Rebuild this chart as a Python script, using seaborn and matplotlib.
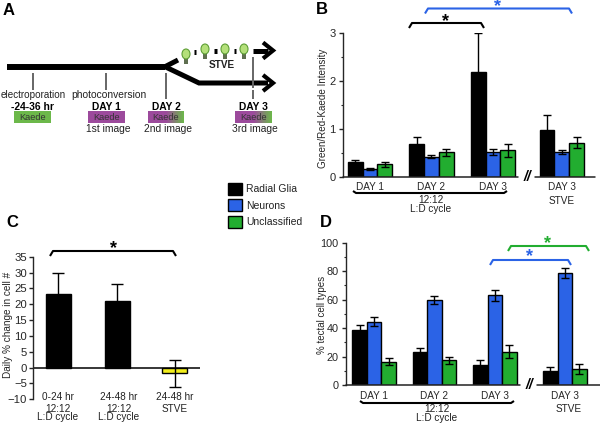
import numpy as np
import pandas as pd
import seaborn as sns
import matplotlib.pyplot as plt
from matplotlib.colors import LinearSegmentedColormap
from matplotlib.patches import Ellipse, Rectangle

# data
cell_types = ['Radial Glia', 'Neurons', 'Unclassified']
group_pos_b = [0, 1, 2, 3.12]
group_pos_d = [0, 1, 2, 3.16]
day_labels = ['DAY 1', 'DAY 2', 'DAY 3', 'DAY 3']

b_glia = [0.30, 0.68, 2.18, 0.98]
b_neurons = [0.16, 0.42, 0.52, 0.52]
b_unclass = [0.26, 0.51, 0.55, 0.71]
b_glia_err = [0.04, 0.15, 0.81, 0.30]
b_neurons_err = [0.03, 0.03, 0.06, 0.04]
b_unclass_err = [0.05, 0.07, 0.14, 0.11]

d_glia = [39, 23, 14, 10]
d_neurons = [44.5, 59.5, 63, 78.5]
d_unclass = [16.5, 17.5, 23.5, 11]
d_glia_err = [3, 2.7, 3.5, 3]
d_neurons_err = [3.3, 2.7, 3.7, 3.5]
d_unclass_err = [2.5, 2.5, 4.3, 3.5]

c_pos = [0, 1, 1.97]
c_vals = [23.3, 21, -1.8]
c_err = [6.6, 5.3, 4.2]
c_colors = ['black', 'black', '#f2ee1c']

sns.set_theme(style='ticks')
plt.rcParams['font.family'] = ['Liberation Sans', 'DejaVu Sans']
plt.rcParams['text.color'] = '#222222'

W, H = 600, 425
BLUE = '#2b63e6'
GREEN = '#22ad30'
palette = ['black', BLUE, GREEN]
fig = plt.figure(figsize=(W / 100, H / 100), dpi=100)


def px_axes(left, top, right, bottom):
    return fig.add_axes([left / W, 1 - bottom / H, (right - left) / W, (bottom - top) / H])


def grouped(ax, pos, series, errs):
    df = pd.DataFrame({
        'pos': pos * 3,
        'type': [t for t in cell_types for _ in pos],
        'val': [v for s in series for v in s],
    })
    sns.barplot(df, x='pos', y='val', hue='type', hue_order=cell_types, palette=palette,
                native_scale=True, width=0.72, gap=0, errorbar=None, legend=False, saturation=1,
                edgecolor='black', linewidth=1, ax=ax)
    for cont, err in zip(ax.containers, errs):
        xs = [p.get_x() + p.get_width() / 2 for p in cont]
        ys = [p.get_height() for p in cont]
        ax.errorbar(xs, ys, yerr=err, fmt='none', ecolor='black', elinewidth=1, capsize=3, capthick=1)
    ax.set_xlabel('')
    ax.set_xticks(pos)
    ax.set_xticklabels(day_labels)
    ax.tick_params(axis='x', length=0, labelsize=7.2, pad=4)
    ax.tick_params(axis='y', labelsize=8, length=3, width=1, pad=2)
    ax.tick_params(axis='y', which='minor', length=1.5, width=0.8)
    sns.despine(ax=ax)
    ax.spines['bottom'].set_visible(False)
    ax.spines['left'].set_linewidth(1)
    ax.patch.set_alpha(0)


# panel B
ax_b = px_axes(342.7, 32.7, 595, 176.7)
grouped(ax_b, group_pos_b, [b_glia, b_neurons, b_unclass], [b_glia_err, b_neurons_err, b_unclass_err])
ax_b.set_xlim(-0.444, 3.66)
ax_b.set_ylim(0, 3)
ax_b.set_yticks([0, 1, 2, 3])
ax_b.set_yticks([0.5, 1.5, 2.5], minor=True)
ax_b.set_ylabel('Green/Red-Kaede Intensity', fontsize=7.1)
ax_b.yaxis.set_label_coords(-15 / 252.3, 0.477)

# panel D
ax_d = px_axes(345.7, 242.7, 600, 385)
grouped(ax_d, group_pos_d, [d_glia, d_neurons, d_unclass], [d_glia_err, d_neurons_err, d_unclass_err])
ax_d.set_xlim(-0.47, 3.74)
ax_d.set_ylim(0, 100)
ax_d.set_yticks(range(0, 101, 20))
ax_d.set_yticks(range(10, 100, 20), minor=True)
ax_d.tick_params(axis='y', labelsize=7.8)
ax_d.set_ylabel('% tectal cell types', fontsize=7)
ax_d.yaxis.set_label_coords(-19 / 254.3, 0.49)

# panel C
ax_c = px_axes(32.7, 256.7, 200, 399.3)
sns.barplot(x=c_pos, y=c_vals, native_scale=True, hue=c_pos, palette=c_colors, legend=False, saturation=1,
            width=0.44, errorbar=None, edgecolor='black', linewidth=1, ax=ax_c)
ax_c.errorbar(c_pos, c_vals, yerr=c_err, fmt='none', ecolor='black', elinewidth=1, capsize=4, capthick=1)
ax_c.set_xlim(-0.43, 2.4)
ax_c.set_ylim(-10, 35)
ax_c.set_yticks(range(-10, 36, 5))
ax_c.set_xticks([])
ax_c.set_xlabel('')
ax_c.tick_params(axis='y', labelsize=8.2, length=3, width=1, pad=1)
ax_c.set_ylabel('Daily % change in cell #', fontsize=7.2)
ax_c.yaxis.set_label_coords(-20 / 167.3, 0.52)
ax_c.axhline(0, color='black', lw=1.1)
sns.despine(ax=ax_c, bottom=True)
ax_c.spines['left'].set_linewidth(1)
ax_c.patch.set_alpha(0)

# legend
handles = [Rectangle((0, 0), 1, 1, fc=c, ec='black', lw=1) for c in palette]
fig.legend(handles, cell_types, loc='upper left', bbox_to_anchor=(226 / W, 1 - 181 / H), frameon=False,
           fontsize=7.5, handlelength=1.35, handleheight=1.35, labelspacing=0.45, handletextpad=0.4,
           borderpad=0.2, borderaxespad=0)

# everything else is placed in pixel coordinates on a full-figure overlay
ov = fig.add_axes([0, 0, 1, 1], zorder=10)
ov.set_xlim(0, W)
ov.set_ylim(H, 0)
ov.axis('off')


def txt(x, y, s, size=7.2, **kw):
    kw.setdefault('ha', 'center')
    ov.text(x, y, s, fontsize=size, va='center', **kw)


def bracket(x0, x1, y, color='black', drop=5):
    ov.plot([x0, x0 + 3, x1 - 3, x1], [y + drop, y, y, y + drop], color=color, lw=1.5,
            solid_capstyle='butt', solid_joinstyle='round')


def star(x, y, color='black'):
    txt(x, y + 3, '*', size=13, color=color, fontweight='bold')


for letter, x, y in [('A', 9, 10), ('B', 322, 9), ('C', 12, 222), ('D', 326, 222)]:
    txt(x, y, letter, size=12, fontweight='bold', color='black')

# brackets and notes on B
bracket(409, 484, 23)
star(446, 19)
bracket(425, 572, 8.5, color=BLUE)
star(498, 4, color=BLUE)
bracket(353, 507, 193, drop=-2)
txt(431, 200, '12:12')
txt(431, 209, 'L:D cycle')
txt(562, 201, 'STVE')
ov.plot([342.7, 518], [176.7, 176.7], color='#222222', lw=1.1)
ov.plot([535, 595], [176.7, 176.7], color='#222222', lw=1.1)
txt(527, 177, '//', size=10, fontstyle='italic', fontweight='bold', color='black')

# brackets and notes on D
bracket(508, 589, 246, color=GREEN)
star(548, 241, color=GREEN)
bracket(490, 571, 260, color=BLUE)
star(530, 254, color=BLUE)
bracket(360, 514, 403, drop=-2)
txt(437, 409, '12:12')
txt(437, 418, 'L:D cycle')
txt(569, 409, 'STVE')
ov.plot([345.7, 520], [385, 385], color='#222222', lw=1.1)
ov.plot([537, 600], [385, 385], color='#222222', lw=1.1)
txt(529, 385, '//', size=10, fontstyle='italic', fontweight='bold', color='black')

# notes on C
bracket(50, 176, 251)
star(113, 246)
for x, lines in [(58, ['0-24 hr', '12:12', 'L:D cycle']), (119, ['24-48 hr', '12:12', 'L:D cycle']),
                 (175, ['24-48 hr', 'STVE'])]:
    for y, s in zip([397.5, 409, 417.5] if len(lines) == 3 else [397.5, 409], lines):
        txt(x, y, s)

# panel A, timeline
ov.plot([7, 165], [66.7, 66.7], color='black', lw=4.3, solid_capstyle='butt')
ov.plot([165, 199, 268], [66.7, 83, 83], color='black', lw=3.6, solid_capstyle='butt', solid_joinstyle='miter')
ov.plot([165, 178], [66.7, 60], color='black', lw=3.6, solid_capstyle='butt')
ov.plot([253, 268], [50.5, 50.5], color='black', lw=3.6, solid_capstyle='butt')
for x0, x1, y in [(194, 196, 52), (214, 216.5, 50.5), (233.5, 236, 50.5)]:
    ov.plot([x0, x1], [y, y], color='black', lw=3.6, solid_capstyle='butt')
for y in [50.5, 83]:
    ov.plot([263, 273, 263], [y - 8, y, y + 8], color='black', lw=3, solid_joinstyle='miter', solid_capstyle='butt')

for x, y0, y1 in [(32.5, 73, 90), (106, 73, 90), (165.5, 73, 99), (253, 57, 88), (253, 90, 99)]:
    ov.plot([x, x], [y0, y1], color='#666666', lw=1.4, solid_capstyle='butt')

for x, y in [(186, 54), (205, 49), (225, 49), (244, 49)]:
    ov.add_patch(Rectangle((x - 2, y + 3), 4, 7, fc='#5f6f50', ec='none'))
    ov.add_patch(Ellipse((x, y), 8, 10, fc='#b4e07a', ec='#5d9e35', lw=0.8))
txt(222, 65, 'STVE', size=7.2, fontweight='bold', color='#222222')

txt(33, 95, 'electroporation', size=7.1)
txt(108.5, 95, 'photoconversion', size=7.4)
for x, s in [(32.5, '-24-36 hr'), (106, 'DAY 1'), (166, 'DAY 2'), (253, 'DAY 3')]:
    txt(x, 106.5, s, fontweight='bold', color='black', size=7.4)
for x, s in [(108, '1st image'), (167.5, '2nd image'), (254.5, '3rd image')]:
    txt(x, 128.5, s, size=7.4)

KPURPLE, KGREEN = '#9c4a9c', '#6cb84a'
fade = LinearSegmentedColormap.from_list('kaede', [KPURPLE, KPURPLE, KGREEN])
boxes = [(14, 51, 'flat_green'), (88, 124.5, 'flat_purple'), (148, 184, 'fade'), (235, 271.5, 'fade')]
ramp = np.linspace(0, 1, 64).reshape(1, -1)
for x0, x1, kind in boxes:
    if kind == 'fade':
        ov.imshow(ramp, cmap=fade, extent=[x0, x1, 123, 111], aspect='auto', zorder=1)
    else:
        ov.add_patch(Rectangle((x0, 111), x1 - x0, 12, fc=KGREEN if kind == 'flat_green' else KPURPLE, ec='none'))
    txt((x0 + x1) / 2, 117, 'Kaede', size=6.6, color='#333333', zorder=2)
ov.set_xlim(0, W)
ov.set_ylim(H, 0)

fig.savefig('out.png', dpi=100)
